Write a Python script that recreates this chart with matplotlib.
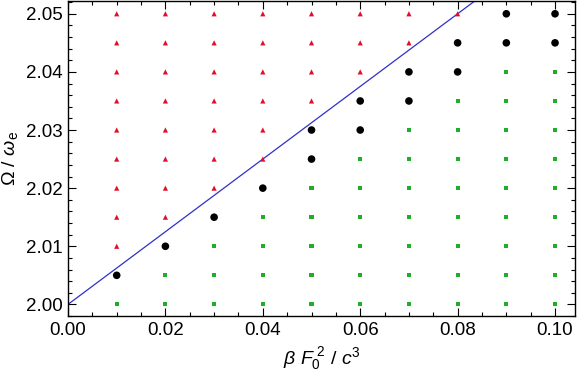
import numpy as np
import matplotlib
matplotlib.use("Agg")
import matplotlib.pyplot as plt
from matplotlib.ticker import MultipleLocator

plt.rcParams['font.family'] = ['Liberation Sans', 'DejaVu Sans']
plt.rcParams['mathtext.fontset'] = 'custom'
plt.rcParams['mathtext.rm'] = 'Liberation Sans'
plt.rcParams['mathtext.it'] = 'Liberation Sans:italic'

# data: grid of (beta F0^2/c^3, Omega/omega_e) points, split by class
x_vals = [0.01, 0.02, 0.03, 0.04, 0.05, 0.06, 0.07, 0.08, 0.09, 0.10]
# lowest and highest black (border) point in each column
black_lo = [2.005, 2.010, 2.015, 2.020, 2.025, 2.030, 2.035, 2.040, 2.045, 2.045]
black_hi = [2.005, 2.010, 2.015, 2.020, 2.030, 2.035, 2.040, 2.045, 2.050, 2.050]
y_grid = [2.000, 2.005, 2.010, 2.015, 2.020, 2.025, 2.030,
          2.035, 2.040, 2.045, 2.050]
line_x = [0.0, 0.11]
line_slope = 0.625

red_x, red_y, blk_x, blk_y, grn_x, grn_y = [], [], [], [], [], []
for x, lo, hi in zip(x_vals, black_lo, black_hi):
    for y in y_grid:
        if y < lo - 1e-9:
            grn_x.append(x); grn_y.append(y)
        elif y > hi + 1e-9:
            red_x.append(x); red_y.append(y)
        else:
            blk_x.append(x); blk_y.append(y)

fig = plt.figure(figsize=(5.8, 3.75), dpi=100)
ax = fig.add_axes([68 / 580, 59 / 375, 507 / 580, 315 / 375])

ax.scatter(grn_x, grn_y, marker='s', s=9, color='#1fae2a', edgecolors='none', zorder=3)
ax.scatter(red_x, red_y, marker='^', s=14, color='#e0102c', edgecolors='none', zorder=3)
ax.scatter(blk_x, blk_y, marker='o', s=30, color='black', edgecolors='none', zorder=3)
lx = np.array(line_x)
ax.plot(lx, 2.0 + line_slope * lx, color='#3030c8', lw=0.9, zorder=2)

ax.set_xlim(0, 0.1041)
ax.set_ylim(1.998, 2.0522)
ax.xaxis.set_major_locator(MultipleLocator(0.02))
ax.xaxis.set_minor_locator(MultipleLocator(0.005))
ax.yaxis.set_major_locator(MultipleLocator(0.01))
ax.yaxis.set_minor_locator(MultipleLocator(0.002))
ax.xaxis.set_major_formatter(matplotlib.ticker.FormatStrFormatter('%.2f'))
ax.yaxis.set_major_formatter(matplotlib.ticker.FormatStrFormatter('%.2f'))

ax.tick_params(which='both', direction='in', top=True, right=True, width=0.8)
ax.tick_params(which='major', length=6, labelsize=13.5, pad=4)
ax.tick_params(which='minor', length=3)
for s in ax.spines.values():
    s.set_linewidth(1.0)

ax.set_xlabel(r'$\beta\ F_0^{\ 2}\ /\ c^3$', fontsize=14, labelpad=5)
ax.set_ylabel(r'$\Omega\ /\ \omega_{\rm e}$', fontsize=14, labelpad=4)

fig.savefig('out.png', dpi=100)
